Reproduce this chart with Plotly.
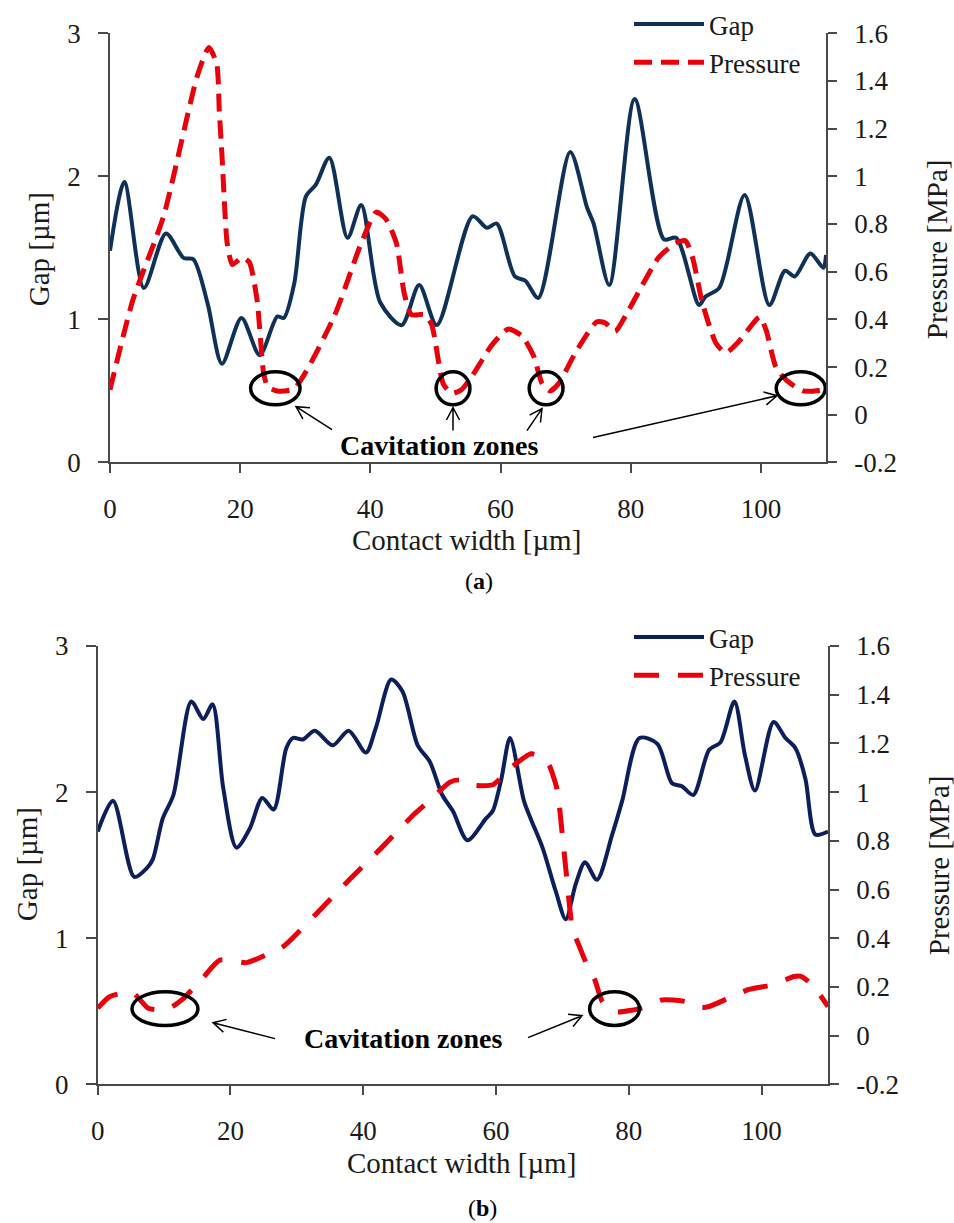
import math
import plotly.graph_objects as go

# ---------------- data (a) ----------------
gap_a_x = [0, 2.2, 5.2, 8.6, 11.3, 12.8, 15.0, 17.2, 20.2, 23.0, 25.7, 26.7, 28.3, 30.1, 31.6,
           33.7, 36.5, 38.6, 41.5, 44.8, 47.5, 50.2, 55.7, 57.9, 59.4, 62.2, 63.8, 65.8, 70.7,
           73.3, 74.3, 76.7, 80.6, 85.1, 87.0, 90.5, 91.5, 93.6, 97.5, 101.3, 103.7, 105.2,
           107.6, 109.6, 110]
gap_a_y = [1.48, 1.96, 1.22, 1.60, 1.43, 1.42, 1.11, 0.69, 1.01, 0.75, 1.02, 1.01, 1.25, 1.86, 1.94,
           2.13, 1.57, 1.80, 1.12, 0.96, 1.24, 0.96, 1.72, 1.64, 1.67, 1.30, 1.27, 1.15, 2.17,
           1.78, 1.67, 1.24, 2.54, 1.56, 1.57, 1.10, 1.16, 1.22, 1.87, 1.10, 1.34, 1.30,
           1.46, 1.36, 1.45]

pres_a_x = [0, 3.5, 8.2, 13.4, 15.2, 16.4, 16.8, 17.2, 17.6, 18.0, 18.8, 20.3, 21.4, 22.6, 23.6,
            24.2, 25.7, 28.3, 34.4, 38.6, 40.9, 42.4, 44.0, 45.2, 46.3, 48.3, 49.4, 51.2, 52.5,
            54.0, 55.8, 58.6, 61.2, 63.3, 65.1, 66.4, 67.6, 68.9, 71.5, 74.8, 76.1, 77.6, 79.7,
            84.3, 86.9, 88.4, 89.5, 91.0, 93.1, 94.6, 96.7, 99.8, 100.8, 102.3, 103.9, 106.5, 110]
pres_a_y = [0.105, 0.48, 0.83, 1.42, 1.54, 1.47, 1.27, 1.09, 0.88, 0.72, 0.63, 0.66, 0.64, 0.48, 0.175,
            0.12, 0.10, 0.11, 0.41, 0.72, 0.85, 0.82, 0.72, 0.51, 0.42, 0.42, 0.38, 0.13, 0.09,
            0.105, 0.17, 0.29, 0.36, 0.33, 0.245, 0.13, 0.10, 0.13, 0.26, 0.39, 0.385, 0.35, 0.44,
            0.66, 0.72, 0.73, 0.66, 0.47, 0.30, 0.26, 0.31, 0.41, 0.355, 0.20, 0.145, 0.10, 0.105]

# ---------------- data (b) ----------------
gap_b_x = [0, 2.3, 5.5, 7.4, 8.3, 9.8, 11.4, 14.1, 15.9, 17.3, 18.9, 20.9, 22.9, 24.8, 26.5, 28.4,
           29.4, 30.9, 32.7, 35.4, 37.8, 40.4, 41.9, 44.2, 45.9, 48.2, 50.0, 51.9, 53.5, 55.7,
           58.5, 59.5, 60.8, 62.1, 64.2, 65.2, 67.0, 69.0, 70.5, 72.0, 73.4, 75.2, 77.5, 79.0,
           81.6, 84.3, 86.5, 88.0, 89.7, 92.1, 93.8, 95.9, 97.5, 99.0, 101.8, 103.6, 105.1,
           106.6, 108.1, 110]
gap_b_y = [1.73, 1.94, 1.42, 1.48, 1.54, 1.82, 1.98, 2.62, 2.50, 2.60, 2.03, 1.62, 1.75, 1.96, 1.88, 2.30,
           2.37, 2.36, 2.42, 2.32, 2.42, 2.27, 2.44, 2.77, 2.69, 2.32, 2.21, 1.98, 1.87, 1.67,
           1.82, 1.87, 2.09, 2.37, 1.94, 1.82, 1.62, 1.32, 1.13, 1.37, 1.52, 1.40, 1.71, 1.94,
           2.37, 2.33, 2.06, 2.04, 1.98, 2.29, 2.34, 2.62, 2.25, 2.01, 2.48, 2.37, 2.30,
           2.09, 1.71, 1.73]

pres_b_x = [0, 1.8, 5.1, 6.4, 7.6, 10.4, 12.8, 15.8, 18.4, 22.4, 24.4, 27.9, 30.4, 32.9, 37.9, 42.7,
            47.7, 50.2, 53.0, 54.5, 56.0, 59.5, 62.0, 65.3, 67.0, 68.0, 69.2, 70.0, 70.6, 71.0,
            71.5, 72.5, 73.7, 74.8, 76.0, 77.5, 78.5, 82.0, 85.0, 88.6, 91.0, 92.1, 95.5, 98.1,
            101.8, 104.9, 106.0, 107.6, 110]
pres_b_y = [0.113, 0.16, 0.18, 0.147, 0.113, 0.107, 0.15, 0.236, 0.31, 0.30, 0.32, 0.365, 0.43, 0.50, 0.64, 0.77,
            0.91, 0.97, 1.04, 1.05, 1.03, 1.03, 1.095, 1.157, 1.14, 1.11, 1.01, 0.82, 0.66, 0.55,
            0.44, 0.37, 0.29, 0.236, 0.14, 0.10, 0.097, 0.113, 0.147, 0.14, 0.116, 0.12, 0.16, 0.19,
            0.21, 0.243, 0.243, 0.21, 0.12]

x_ticks = [0, 20, 40, 60, 80, 100]
gap_ticks = [0, 1, 2, 3]
pres_ticks = [-0.2, 0, 0.2, 0.4, 0.6, 0.8, 1, 1.2, 1.4, 1.6]
pres_ticktext = ["-0.2", "0", "0.2", "0.4", "0.6", "0.8", "1", "1.2", "1.4", "1.6"]

# cavitation-zone ellipses (data coords: x0, x1 ; y range on pressure axis)
cav_a = [(21.6, 29.2), (50.1, 55.3), (64.4, 69.6), (102.35, 109.9)]
cav_b = [(5.17, 15.1), (74.1, 81.6)]
cav_y = (0.042, 0.18)

# ---------------- layout helpers ----------------
W, H = 954, 1223
FONT = "Liberation Serif"
AX_COL = "#4a4a4a"
GAP_A_COL = "#0f3157"
GAP_B_COL = "#0c1f5c"
RED = "#e8000a"


def fx(px):
    return px / W


def fy(py):
    return 1 - py / H


def arrow_path(tail, tip, head=14, ang=28):
    tx, ty = tail
    hx, hy = tip
    a = math.atan2(ty - hy, tx - hx)
    r = math.radians(ang)
    p1 = (hx + head * math.cos(a + r), hy + head * math.sin(a + r))
    p2 = (hx + head * math.cos(a - r), hy + head * math.sin(a - r))
    s = "M {} {} L {} {} L {} {} M {} {} L {} {}".format(
        fx(p1[0]), fy(p1[1]), fx(hx), fy(hy), fx(p2[0]), fy(p2[1]),
        fx(hx), fy(hy), fx(tx), fy(ty))
    return s


fig = go.Figure()

fig.add_trace(go.Scatter(x=gap_a_x, y=gap_a_y, name="Gap", mode="lines",
                         line=dict(color=GAP_A_COL, width=4, shape="spline", smoothing=0.8),
                         xaxis="x", yaxis="y", legend="legend"))
fig.add_trace(go.Scatter(x=pres_a_x, y=pres_a_y, name="Pressure", mode="lines",
                         line=dict(color=RED, width=5, dash="18px,9px", shape="spline", smoothing=0.6),
                         xaxis="x", yaxis="y2", legend="legend"))
fig.add_trace(go.Scatter(x=gap_b_x, y=gap_b_y, name="Gap", mode="lines",
                         line=dict(color=GAP_B_COL, width=4, shape="spline", smoothing=0.8),
                         xaxis="x2", yaxis="y3", legend="legend2"))
fig.add_trace(go.Scatter(x=pres_b_x, y=pres_b_y, name="Pressure", mode="lines",
                         line=dict(color=RED, width=5, dash="25px,19px", shape="spline", smoothing=0.6),
                         xaxis="x2", yaxis="y4", legend="legend2"))

tickfont = dict(family=FONT, size=27, color="#1a1a1a")
common_x = dict(range=[0, 110], tickvals=x_ticks, showline=True, linecolor=AX_COL, linewidth=1.5,
                ticks="outside", ticklen=9, tickwidth=1.5, tickcolor=AX_COL, showgrid=False,
                zeroline=False, tickfont=tickfont, ticklabelstandoff=12, automargin=False)
common_gap = dict(range=[0, 3], tickvals=gap_ticks, showline=True, linecolor=AX_COL, linewidth=1.5,
                  ticks="outside", ticklen=10, tickwidth=1.5, tickcolor=AX_COL, showgrid=False,
                  zeroline=False, tickfont=tickfont, ticklabelstandoff=12, automargin=False)
common_p = dict(range=[-0.2, 1.6], tickvals=pres_ticks, ticktext=pres_ticktext, showline=True,
                linecolor=AX_COL, linewidth=1.5, ticks="outside", ticklen=9, tickwidth=1.5,
                tickcolor=AX_COL, showgrid=False, zeroline=False, tickfont=tickfont, side="right",
                ticklabelstandoff=12, automargin=False)

top_dom_y = [fy(460), fy(29.3)]
bot_dom_y = [fy(1084), fy(644)]

fig.update_layout(
    width=W, height=H, autosize=False,
    margin=dict(l=0, r=0, t=0, b=0, pad=0),
    paper_bgcolor="white", plot_bgcolor="white",
    showlegend=True,
    xaxis=dict(domain=[fx(110), fx(826)], anchor="y", **common_x),
    yaxis=dict(domain=top_dom_y, anchor="x", **common_gap),
    yaxis2=dict(overlaying="y", anchor="x", **common_p),
    xaxis2=dict(domain=[fx(97.7), fx(828)], anchor="y3", **common_x),
    yaxis3=dict(domain=bot_dom_y, anchor="x2", **common_gap),
    yaxis4=dict(overlaying="y3", anchor="x2", **common_p),
    legend=dict(x=fx(629), y=fy(-4), xanchor="left", yanchor="top", bgcolor="rgba(0,0,0,0)",
                font=dict(family=FONT, size=27, color="#1a1a1a"), itemwidth=70,
                tracegroupgap=0, borderwidth=0),
    legend2=dict(x=fx(629), y=fy(611), xanchor="left", yanchor="top", bgcolor="rgba(0,0,0,0)",
                 font=dict(family=FONT, size=27, color="#1a1a1a"), itemwidth=70,
                 tracegroupgap=0, borderwidth=0),
)

shapes = []
for (x0, x1) in cav_a:
    shapes.append(dict(type="circle", xref="x", yref="y2", x0=x0, x1=x1, y0=cav_y[0], y1=cav_y[1],
                       line=dict(color="black", width=3.5)))
for (x0, x1) in cav_b:
    shapes.append(dict(type="circle", xref="x2", yref="y4", x0=x0, x1=x1, y0=cav_y[0], y1=cav_y[1],
                       line=dict(color="black", width=3.5)))

arrows = [((332, 427), (296, 404)), ((453, 428), (453, 405)), ((527, 428), (542, 406)),
          ((593, 435), (777, 393)), ((275, 1038), (213, 1022)), ((528, 1037), (582, 1015))]
for tail, tip in arrows:
    shapes.append(dict(type="path", xref="paper", yref="paper", path=arrow_path(tail, tip),
                       line=dict(color="black", width=1.5)))
fig.update_layout(shapes=shapes)

ann = []
title_font = dict(family=FONT, size=29, color="#1a1a1a")
ann.append(dict(text="Contact width [µm]", x=fx(466), y=fy(538), xref="paper", yref="paper",
                showarrow=False, font=title_font, xanchor="center", yanchor="middle"))
ann.append(dict(text="Contact width [µm]", x=fx(461), y=fy(1163), xref="paper", yref="paper",
                showarrow=False, font=title_font, xanchor="center", yanchor="middle"))
ann.append(dict(text="Gap [µm]", x=fx(39), y=fy(246), xref="paper", yref="paper", textangle=-90,
                showarrow=False, font=title_font, xanchor="center", yanchor="middle"))
ann.append(dict(text="Gap [µm]", x=fx(27), y=fy(863), xref="paper", yref="paper", textangle=-90,
                showarrow=False, font=title_font, xanchor="center", yanchor="middle"))
ann.append(dict(text="Pressure [MPa]", x=fx(937), y=fy(246), xref="paper", yref="paper", textangle=-90,
                showarrow=False, font=title_font, xanchor="center", yanchor="middle"))
ann.append(dict(text="Pressure [MPa]", x=fx(939), y=fy(864), xref="paper", yref="paper", textangle=-90,
                showarrow=False, font=title_font, xanchor="center", yanchor="middle"))
cav_font = dict(family=FONT, size=28, color="black")
ann.append(dict(text="<b>Cavitation zones</b>", x=fx(439), y=fy(443), xref="paper", yref="paper",
                showarrow=False, font=cav_font, xanchor="center", yanchor="middle"))
ann.append(dict(text="<b>Cavitation zones</b>", x=fx(403), y=fy(1038), xref="paper", yref="paper",
                showarrow=False, font=cav_font, xanchor="center", yanchor="middle"))
lab_font = dict(family=FONT, size=24, color="black")
ann.append(dict(text="(<b>a</b>)", x=fx(479), y=fy(579), xref="paper", yref="paper",
                showarrow=False, font=lab_font, xanchor="center", yanchor="middle"))
ann.append(dict(text="(<b>b</b>)", x=fx(482), y=fy(1208), xref="paper", yref="paper",
                showarrow=False, font=lab_font, xanchor="center", yanchor="middle"))
fig.update_layout(annotations=ann)

fig.write_html("out.html",
               post_script="document.body.style.margin='0';document.body.style.padding='0';"
                           "document.body.style.overflow='hidden';")
